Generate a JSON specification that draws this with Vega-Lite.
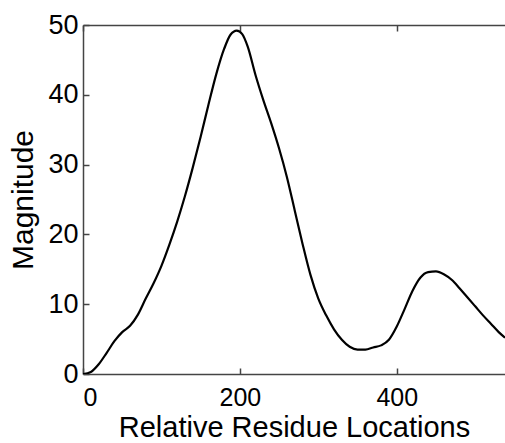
{
  "$schema": "https://vega.github.io/schema/vega-lite/v6.json",
  "autosize": {"type": "none"},
  "padding": {"left": 83, "top": 25, "right": 0, "bottom": 69},
  "width": 422,
  "height": 349,
  "background": "white",
  "config": {
    "view": {"stroke": null},
    "font": "Liberation Sans",
    "axis": {"grid": false, "domainColor": "#444444", "tickColor": "#444444", "labelColor": "black", "titleColor": "black", "labelFont": "Liberation Sans", "titleFont": "Liberation Sans", "titleFontWeight": "normal", "domainWidth": 1.5, "tickWidth": 1.5, "tickSize": 6}
  },
  "data": {"values": [
    {"x": 0, "y": 0}, {"x": 10, "y": 0.3}, {"x": 20, "y": 1.4}, {"x": 30, "y": 3.0},
    {"x": 40, "y": 4.7}, {"x": 50, "y": 6.0}, {"x": 60, "y": 6.9}, {"x": 70, "y": 8.5},
    {"x": 80, "y": 10.8}, {"x": 90, "y": 13.0}, {"x": 100, "y": 15.5}, {"x": 110, "y": 18.5},
    {"x": 120, "y": 21.8}, {"x": 130, "y": 25.5}, {"x": 140, "y": 29.6}, {"x": 150, "y": 34.0},
    {"x": 160, "y": 38.6}, {"x": 170, "y": 43.0}, {"x": 180, "y": 46.6}, {"x": 188, "y": 48.6},
    {"x": 196, "y": 49.2}, {"x": 203, "y": 48.7}, {"x": 210, "y": 46.9}, {"x": 220, "y": 42.8},
    {"x": 230, "y": 39.2}, {"x": 240, "y": 35.9}, {"x": 250, "y": 32.3}, {"x": 260, "y": 28.2},
    {"x": 270, "y": 23.4}, {"x": 280, "y": 18.6}, {"x": 290, "y": 14.2}, {"x": 300, "y": 10.8},
    {"x": 310, "y": 8.4}, {"x": 320, "y": 6.4}, {"x": 330, "y": 4.9}, {"x": 340, "y": 3.9},
    {"x": 350, "y": 3.5}, {"x": 360, "y": 3.5}, {"x": 370, "y": 3.8}, {"x": 380, "y": 4.1},
    {"x": 390, "y": 4.9}, {"x": 400, "y": 6.8}, {"x": 410, "y": 9.3}, {"x": 420, "y": 11.9},
    {"x": 430, "y": 13.8}, {"x": 440, "y": 14.6}, {"x": 450, "y": 14.7}, {"x": 460, "y": 14.3},
    {"x": 470, "y": 13.5}, {"x": 480, "y": 12.3}, {"x": 490, "y": 11.0}, {"x": 500, "y": 9.7},
    {"x": 510, "y": 8.4}, {"x": 520, "y": 7.2}, {"x": 530, "y": 6.0}, {"x": 538, "y": 5.2}
  ]},
  "layer": [
    {
      "mark": {"type": "line", "color": "black", "strokeWidth": 2.2, "interpolate": "monotone", "clip": true},
      "encoding": {
        "x": {"field": "x", "type": "quantitative", "scale": {"domain": [0, 538], "nice": false},
          "axis": {"orient": "bottom", "values": [0, 200, 400], "title": "Relative Residue Locations", "titleFontSize": 29, "labelFontSize": 25, "ticks": false, "labelPadding": 11, "titlePadding": 3}},
        "y": {"field": "y", "type": "quantitative", "scale": {"domain": [0, 50], "nice": false},
          "axis": {"orient": "left", "values": [0, 10, 20, 30, 40, 50], "title": "Magnitude", "titleFontSize": 30, "labelFontSize": 27, "ticks": false, "labelPadding": 5, "titlePadding": 9}}
      }
    },
    {
      "mark": {"type": "line", "opacity": 0},
      "encoding": {
        "x": {"field": "x", "type": "quantitative", "scale": {"domain": [0, 538], "nice": false},
          "axis": {"orient": "top", "offset": -349, "values": [0, 200, 400], "labels": false, "domain": false, "title": null}},
        "y": {"field": "y", "type": "quantitative", "scale": {"domain": [0, 50], "nice": false},
          "axis": {"orient": "right", "offset": -422, "values": [0, 10, 20, 30, 40, 50], "labels": false, "domain": false, "title": null}}
      }
    },
    {
      "mark": {"type": "line", "opacity": 0},
      "encoding": {
        "x": {"field": "x", "type": "quantitative", "scale": {"domain": [0, 538], "nice": false},
          "axis": {"orient": "bottom", "offset": -349, "values": [0, 200, 400], "labels": false, "title": null}},
        "y": {"field": "y", "type": "quantitative", "scale": {"domain": [0, 50], "nice": false}, "axis": null}
      }
    }
  ],
  "resolve": {"axis": {"x": "independent", "y": "independent"}}
}
